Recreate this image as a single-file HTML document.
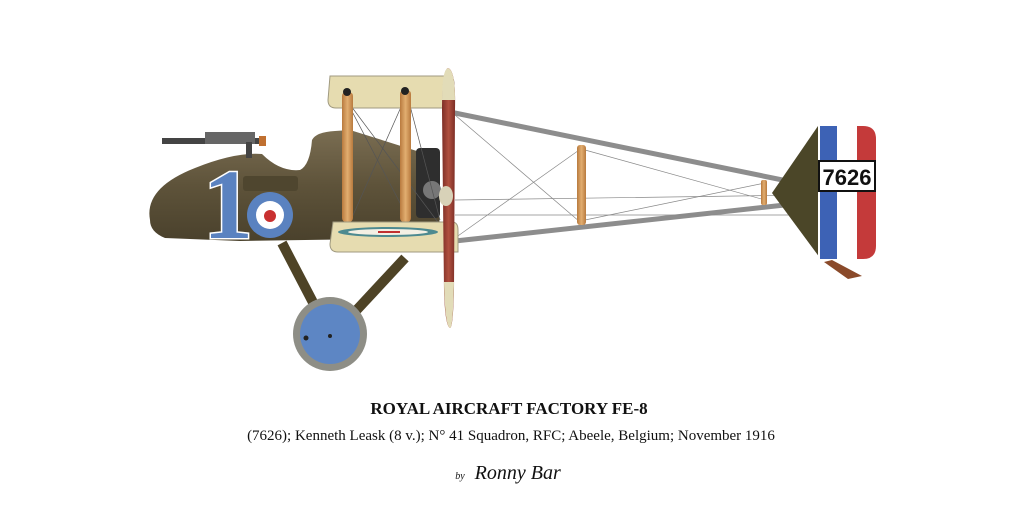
<!DOCTYPE html>
<html><head><meta charset="utf-8"><style>
html,body{margin:0;padding:0;background:#fff;}
#c{position:relative;width:1024px;height:512px;overflow:hidden;background:#fff;}
.t{position:absolute;left:0;width:1024px;text-align:center;font-family:"Liberation Serif",serif;color:#111;}
</style></head><body><div id="c">
<svg width="1024" height="512" style="position:absolute;left:0;top:0">
<defs>
<linearGradient id="fus" x1="0" y1="0" x2="0" y2="1"><stop offset="0" stop-color="#7a6d52"/><stop offset="0.5" stop-color="#5e533a"/><stop offset="1" stop-color="#4a412c"/></linearGradient>
<linearGradient id="wood" x1="0" y1="0" x2="1" y2="0"><stop offset="0" stop-color="#b87a3e"/><stop offset="0.5" stop-color="#e2ae70"/><stop offset="1" stop-color="#b87a3e"/></linearGradient>
<linearGradient id="prop" x1="0" y1="0" x2="1" y2="0"><stop offset="0" stop-color="#7d2e26"/><stop offset="0.5" stop-color="#b0503f"/><stop offset="1" stop-color="#7d2e26"/></linearGradient>
</defs>
<line x1="450" y1="112" x2="812" y2="186" stroke="#8d8d8d" stroke-width="5"/>
<line x1="455" y1="241" x2="812" y2="202" stroke="#8d8d8d" stroke-width="5"/>
<g stroke="#888" stroke-width="0.7">
<line x1="455" y1="115" x2="580" y2="222"/><line x1="455" y1="238" x2="582" y2="148"/>
<line x1="585" y1="150" x2="765" y2="200"/><line x1="585" y1="220" x2="765" y2="183"/>
<line x1="455" y1="200" x2="810" y2="195"/><line x1="455" y1="215" x2="810" y2="215"/>
</g>
<rect x="577" y="145" width="9" height="80" rx="3" fill="url(#wood)"/>
<rect x="761" y="180" width="6" height="25" rx="2" fill="url(#wood)"/>
<polygon points="772,193 818,126 820,258" fill="#4b4628"/>
<path d="M818,126 H863 Q876,126 876,139 V246 Q876,259 863,259 H818 Z" fill="#fff"/>
<rect x="820" y="126" width="17" height="133" fill="#3d62b5"/>
<path d="M857,126 H863 Q876,126 876,139 V246 Q876,259 863,259 H857 Z" fill="#c43a3a"/>
<rect x="819" y="161" width="56" height="30" fill="#fff" stroke="#111" stroke-width="2"/>
<text x="847" y="185" font-family="Liberation Sans,sans-serif" font-size="22" font-weight="bold" text-anchor="middle" fill="#111">7626</text>
<polygon points="824,262 832,260 862,276 848,279" fill="#8a4a2a"/>
<line x1="282" y1="243" x2="318" y2="312" stroke="#4e4326" stroke-width="10"/>
<line x1="405" y1="258" x2="352" y2="315" stroke="#4e4326" stroke-width="10"/>
<circle cx="330" cy="334" r="37" fill="#8e8e86"/>
<circle cx="330" cy="334" r="30" fill="#5d86c4"/>
<circle cx="306" cy="338" r="2.5" fill="#222"/><circle cx="330" cy="336" r="2" fill="#222"/>
<path d="M150,220 Q144,188 195,168 Q235,152 262,154 Q280,172 300,170 Q310,165 312,140 Q316,132 335,131 L350,130 L420,152 L438,175 L440,238 L240,241 L165,238 Q150,232 150,220 Z" fill="url(#fus)"/>
<rect x="243" y="176" width="55" height="15" rx="3" fill="#4f462f"/>
<rect x="416" y="148" width="24" height="70" rx="4" fill="#2e2e2e"/>
<circle cx="432" cy="190" r="9" fill="#777"/>
<rect x="162" y="138" width="100" height="6" fill="#444"/>
<rect x="205" y="132" width="50" height="12" fill="#666"/>
<rect x="246" y="142" width="6" height="16" fill="#444"/>
<rect x="259" y="136" width="7" height="10" fill="#c07030"/>
<text x="228" y="238" font-family="Liberation Serif,serif" font-size="100" font-weight="bold" text-anchor="middle" fill="#5a82c0" stroke="#fff" stroke-width="3" paint-order="stroke">1</text>
<circle cx="270" cy="215" r="23" fill="#5a82c0"/>
<circle cx="270" cy="215" r="14" fill="#fff"/>
<circle cx="270" cy="216" r="6" fill="#c83030"/>
<path d="M330,76 H448 Q454,76 454,84 V108 H336 Q328,108 328,100 Z" fill="#e6dcb0" stroke="#a09a80" stroke-width="1"/>
<g stroke="#555" stroke-width="0.7">
<line x1="345" y1="98" x2="410" y2="222"/><line x1="405" y1="98" x2="350" y2="222"/>
<line x1="345" y1="98" x2="440" y2="225"/><line x1="408" y1="98" x2="440" y2="220"/>
</g>
<rect x="342" y="92" width="11" height="130" rx="4" fill="url(#wood)"/>
<rect x="400" y="90" width="11" height="132" rx="4" fill="url(#wood)"/>
<circle cx="347" cy="92" r="4" fill="#222"/><circle cx="405" cy="91" r="4" fill="#222"/>
<path d="M333,222 H452 Q458,222 458,230 V252 H338 Q330,252 330,244 Z" fill="#e6dcb0" stroke="#a09a80" stroke-width="1"/>
<ellipse cx="388" cy="232" rx="50" ry="5" fill="#4d8a90"/>
<ellipse cx="388" cy="232" rx="40" ry="3" fill="#f4f0e4"/>
<rect x="378" y="231" width="22" height="2" fill="#c03030"/>
<path d="M448,68 Q456,70 455,110 L454,290 Q453,328 450,328 Q445,326 444,290 L442,110 Q442,70 448,68 Z" fill="url(#prop)"/>
<path d="M448,68 Q455,70 455,100 L442,100 Q442,70 448,68 Z" fill="#e2dcb8"/>
<path d="M444,282 L454,282 Q453,328 450,328 Q445,326 444,282 Z" fill="#e2dcb8"/>
<ellipse cx="446" cy="196" rx="7" ry="10" fill="#d8d2b8"/>
</svg>
<div class="t" style="top:399px;font-size:17px;font-weight:bold;left:-3px;">ROYAL AIRCRAFT FACTORY FE-8</div>
<div class="t" style="top:428px;font-size:15px;left:-1px;">(7626); Kenneth Leask (8 v.); N° 41 Squadron, RFC; Abeele, Belgium; November 1916</div>
<div class="t" style="top:462px;font-size:20px;font-style:italic;left:-4px;"><span style="font-size:10px">by</span>&nbsp;&nbsp;Ronny Bar</div>
</div></body></html>
